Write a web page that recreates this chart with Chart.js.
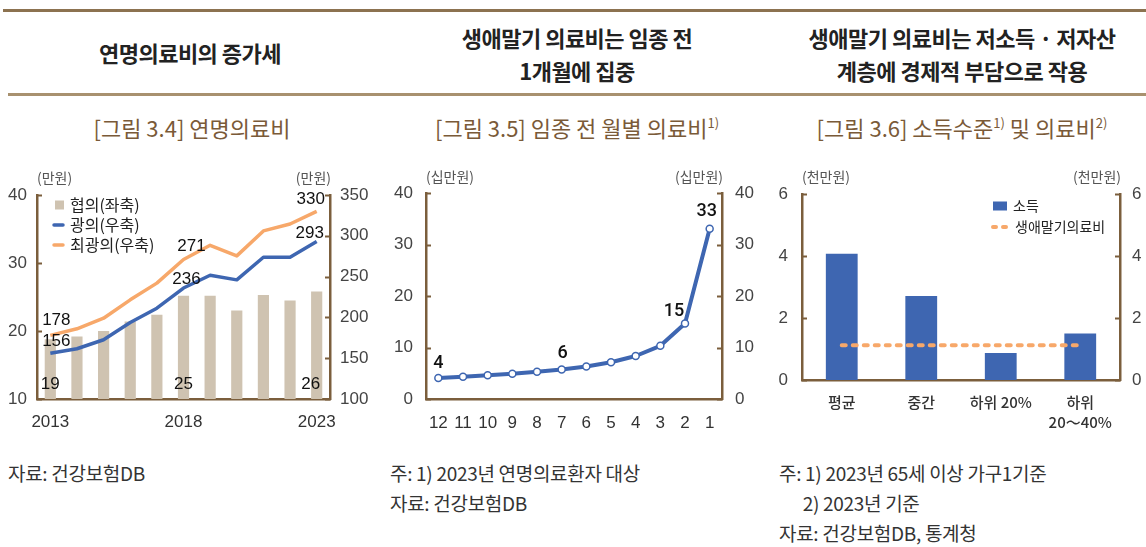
<!DOCTYPE html>
<html>
<head>
<meta charset="utf-8">
<script src="https://cdn.jsdelivr.net/npm/chart.js@4.4.1/dist/chart.umd.min.js"></script>
<style>
body{margin:0;width:1146px;height:547px;background:#fff;position:relative;overflow:hidden;font-family:"Noto Sans CJK KR",sans-serif;}
.line1{position:absolute;left:3px;width:1143px;top:9px;height:3px;background:#8c7250;}
.line2{position:absolute;left:8px;width:1138px;top:93px;height:3px;background:#a8916f;}
.head{position:absolute;font-weight:700;font-size:22px;color:#222;text-align:center;line-height:33px;width:390px;letter-spacing:-0.5px;}
.sub{position:absolute;font-size:22px;color:#7a5a38;text-align:center;width:390px;top:112px;line-height:30px;}
.sub sup{font-size:13px;vertical-align:top;position:relative;top:-4px;}
.note{position:absolute;font-size:19px;color:#333;line-height:30px;white-space:nowrap;letter-spacing:-0.3px;}
canvas{position:absolute;}
</style>
</head>
<body>
<div class="line1"></div>
<div class="line2"></div>
<div class="head" style="left:-5px;top:36px;">연명의료비의 증가세</div>
<div class="head" style="left:382px;top:21px;">생애말기 의료비는 임종 전<br>1개월에 집중</div>
<div class="head" style="left:767px;top:21px;">생애말기 의료비는 저소득 · 저자산<br>계층에 경제적 부담으로 작용</div>
<div class="sub" style="left:-3px;">[그림 3.4] 연명의료비</div>
<div class="sub" style="left:382px;">[그림 3.5] 임종 전 월별 의료비<sup>1)</sup></div>
<div class="sub" style="left:767px;">[그림 3.6] 소득수준<sup>1)</sup> 및 의료비<sup>2)</sup></div>

<canvas id="c1" width="380" height="270" style="left:0;top:170px;"></canvas>
<canvas id="c2" width="380" height="270" style="left:390px;top:170px;"></canvas>
<canvas id="c3" width="376" height="270" style="left:770px;top:170px;"></canvas>

<div class="note" style="left:8px;top:458px;">자료: 건강보험DB</div>
<div class="note" style="left:390px;top:458px;">주: 1) 2023년 연명의료환자 대상<br>자료: 건강보험DB</div>
<div class="note" style="left:779px;top:458px;">주: 1) 2023년 65세 이상 가구1기준<br>&nbsp;&nbsp;&nbsp;&nbsp;&nbsp;&nbsp;2) 2023년 기준<br>자료: 건강보험DB, 통계청</div>

<script>
// ---- data ----
var years = ["2013", "2014", "2015", "2016", "2017", "2018", "2019", "2020", "2021", "2022", "2023"];
var yearTicks = ["2013", "2018", "2023"];
var narrowVals = [18.8, 19.2, 20.0, 21.4, 22.4, 25.2, 25.2, 23.0, 25.3, 24.5, 25.8];   // 협의(좌축)
var broadVals = [156, 161.6, 172.6, 193.8, 211.3, 236, 251.7, 246, 273.7, 273.7, 293]; // 광의(우축)
var widestVals = [178, 186, 199, 221.5, 242, 271, 288.4, 275.4, 306, 314.5, 330];     // 최광의(우축)

var months = ["12", "11", "10", "9", "8", "7", "6", "5", "4", "3", "2", "1"];
var monthVals = [4.08, 4.34, 4.6, 4.9, 5.3, 5.74, 6.3, 7.15, 8.36, 10.33, 14.67, 33.1];

var groups = ["평균", "중간", "하위 20%", ["하위", "20～40%"]];
var incomeVals = [4.08, 2.71, 0.87, 1.5];        // 소득
var endCostVals = [1.12, 1.12, 1.12, 1.12];      // 생애말기의료비

// ---- style ----
var AXIS = "#7b5e3c";
var TAN = "#cfc3b1";
var BLUE = "#3e66b1";
var ORANGE = "#f7a86a";
var NUM = "'Liberation Sans', Arial, sans-serif";
var KR = "'Noto Sans CJK KR', sans-serif";

// inward tick marks, unit captions, legends and value labels
var deco = {
    id: "deco",
    afterDraw: function (chart, args, opts) {
        var ctx = chart.ctx, a = chart.chartArea;
        ctx.save();
        ctx.strokeStyle = AXIS;
        ctx.lineWidth = 2;
        ["y", "y1"].forEach(function (id) {
            var s = chart.scales[id];
            if (!s) return;
            var left = s.position === "left";
            var x = left ? a.left : a.right;
            s.ticks.forEach(function (t) {
                var y = Math.round(s.getPixelForValue(t.value)) + 0.5;
                ctx.beginPath();
                ctx.moveTo(x, y);
                ctx.lineTo(left ? x + 5 : x - 5, y);
                ctx.stroke();
            });
        });

        ctx.fillStyle = "#555";
        ctx.font = "14px " + KR;
        ctx.textBaseline = "middle";
        ctx.textAlign = "left";
        ctx.fillText(opts.unit, a.left, opts.unitY);
        ctx.textAlign = "right";
        ctx.fillText(opts.unit, a.right + 1, opts.unitY);

        // legend
        ctx.font = opts.legendFont;
        ctx.textAlign = "left";
        (opts.legend || []).forEach(function (it) {
            if (it.kind === "box") {
                ctx.fillStyle = it.color;
                ctx.fillRect(it.x, it.y - it.h / 2, it.w, it.h);
            } else {
                ctx.strokeStyle = it.color;
                ctx.lineWidth = it.lw;
                ctx.lineCap = "round";
                ctx.setLineDash(it.dash || []);
                ctx.beginPath();
                ctx.moveTo(it.x, it.y);
                ctx.lineTo(it.x + it.w, it.y);
                ctx.stroke();
                ctx.setLineDash([]);
            }
            ctx.fillStyle = "#222";
            ctx.fillText(it.text, it.tx, it.y);
        });

        // value labels
        ctx.font = opts.labelFont;
        ctx.fillStyle = "#111";
        ctx.textAlign = "center";
        (opts.labels || []).forEach(function (l) {
            var el = chart.getDatasetMeta(l.ds).data[l.i];
            var v = chart.data.datasets[l.ds].data[l.i];
            var y = l.bottom ? a.bottom + l.dy : el.y + l.dy;
            ctx.fillText(String(Math.round(v)), el.x + l.dx, y);
        });
        ctx.restore();
    }
};

function numTicks(pad) {
    return { padding: pad, color: "#444", font: { family: NUM, size: 17 } };
}
function yAxis(pos, min, max, step, pad, w) {
    var t = numTicks(pad);
    t.stepSize = step;
    return {
        position: pos, min: min, max: max, ticks: t,
        grid: { display: false, drawTicks: false },
        border: { color: AXIS, width: 2.5 },
        afterFit: function (s) { s.width = w; }
    };
}
function xAxis(h, pad, font, cb) {
    var ticks = { autoSkip: false, maxRotation: 0, padding: pad, color: "#333", font: font };
    if (cb) ticks.callback = cb;
    return {
        offset: true,
        grid: { display: false, drawTicks: false },
        border: { color: AXIS, width: 2.5 },
        ticks: ticks,
        afterFit: function (s) { s.height = h; }
    };
}

// ---- 그림 3.4 ----
new Chart(document.getElementById("c1"), {
    type: "bar",
    data: {
        labels: years,
        datasets: [
            { type: "bar", label: "협의(좌축)", data: narrowVals, backgroundColor: TAN, yAxisID: "y", barPercentage: 0.42, categoryPercentage: 1, order: 3 },
            { type: "line", label: "광의(우축)", data: broadVals, borderColor: BLUE, borderWidth: 3.5, pointRadius: 0, tension: 0, borderJoinStyle: "round", yAxisID: "y1", order: 1 },
            { type: "line", label: "최광의(우축)", data: widestVals, borderColor: ORANGE, borderWidth: 3.5, pointRadius: 0, tension: 0, borderJoinStyle: "round", yAxisID: "y1", order: 2 }
        ]
    },
    options: {
        responsive: false, animation: false, devicePixelRatio: 1,
        layout: { padding: { top: 25 } },
        plugins: {
            legend: { display: false }, tooltip: { enabled: false },
            deco: {
                unit: "(만원)", unitY: 8,
                legendFont: "16px " + KR,
                legend: [
                    { kind: "box", color: TAN, x: 55, y: 35, w: 9, h: 9, text: "협의(좌축)", tx: 70 },
                    { kind: "line", color: BLUE, lw: 3.5, x: 54, y: 55, w: 9, text: "광의(우축)", tx: 70 },
                    { kind: "line", color: ORANGE, lw: 3.5, x: 54, y: 75, w: 9, text: "최광의(우축)", tx: 70 }
                ],
                labelFont: "17px " + NUM,
                labels: [
                    { ds: 2, i: 0, dx: 6, dy: -15 }, { ds: 1, i: 0, dx: 6, dy: -12 }, { ds: 0, i: 0, dx: 0, dy: -15, bottom: true },
                    { ds: 2, i: 5, dx: 8, dy: -13 }, { ds: 1, i: 5, dx: 3, dy: -9 }, { ds: 0, i: 5, dx: 0, dy: -15, bottom: true },
                    { ds: 2, i: 10, dx: -6, dy: -12 }, { ds: 1, i: 10, dx: -7, dy: -8 }, { ds: 0, i: 10, dx: -6, dy: -15, bottom: true }
                ]
            }
        },
        scales: {
            x: xAxis(41, 13, { family: NUM, size: 17 }, function (v, i) {
                return yearTicks.indexOf(years[i]) >= 0 ? years[i] : "";
            }),
            y: yAxis("left", 10, 40, 10, 10, 37),
            y1: yAxis("right", 100, 350, 50, 10, 50)
        }
    },
    plugins: [deco]
});

// ---- 그림 3.5 ----
new Chart(document.getElementById("c2"), {
    type: "line",
    data: {
        labels: months,
        datasets: [{
            label: "월별 의료비", data: monthVals, yAxisID: "y",
            borderColor: BLUE, borderWidth: 4, tension: 0, borderJoinStyle: "round",
            pointRadius: 3.5, pointBackgroundColor: "#fff", pointBorderColor: BLUE, pointBorderWidth: 1.5
        }]
    },
    options: {
        responsive: false, animation: false, devicePixelRatio: 1,
        layout: { padding: { top: 20 } },
        plugins: {
            legend: { display: false }, tooltip: { enabled: false },
            deco: {
                unit: "(십만원)", unitY: 7,
                legendFont: "15px " + KR,
                labelFont: "500 18px Roboto, " + NUM,
                labels: [
                    { ds: 0, i: 0, dx: 0, dy: -15 }, { ds: 0, i: 5, dx: 1, dy: -16 },
                    { ds: 0, i: 10, dx: -11, dy: -12 }, { ds: 0, i: 11, dx: -3, dy: -17 }
                ]
            }
        },
        scales: {
            x: xAxis(41, 14, { family: NUM, size: 17 }),
            y: yAxis("left", 0, 40, 10, 13, 36),
            y1: yAxis("right", 0, 40, 10, 13, 48)
        }
    },
    plugins: [deco]
});

// ---- 그림 3.6 ----
new Chart(document.getElementById("c3"), {
    type: "bar",
    data: {
        labels: groups,
        datasets: [
            { type: "bar", label: "소득", data: incomeVals, backgroundColor: BLUE, yAxisID: "y", barPercentage: 0.4, categoryPercentage: 1, order: 2 },
            { type: "line", label: "생애말기의료비", data: endCostVals, borderColor: ORANGE, borderWidth: 4, borderDash: [4, 7], borderCapStyle: "round", pointRadius: 0, yAxisID: "y", order: 1 }
        ]
    },
    options: {
        responsive: false, animation: false, devicePixelRatio: 1,
        layout: { padding: { top: 23 } },
        plugins: {
            legend: { display: false }, tooltip: { enabled: false },
            deco: {
                unit: "(천만원)", unitY: 7,
                legendFont: "14px " + KR,
                legend: [
                    { kind: "box", color: BLUE, x: 223, y: 36, w: 14, h: 9, text: "소득", tx: 243 },
                    { kind: "line", color: ORANGE, lw: 4, dash: [3, 7], x: 223, y: 57, w: 14, text: "생애말기의료비", tx: 245 }
                ]
            }
        },
        scales: {
            x: xAxis(60, 12, { family: KR, size: 15, weight: "500", lineHeight: 1.35 }),
            y: yAxis("left", 0, 6, 2, 14, 32),
            y1: yAxis("right", 0, 6, 2, 12, 26)
        }
    },
    plugins: [deco]
});
</script>
</body>
</html>
